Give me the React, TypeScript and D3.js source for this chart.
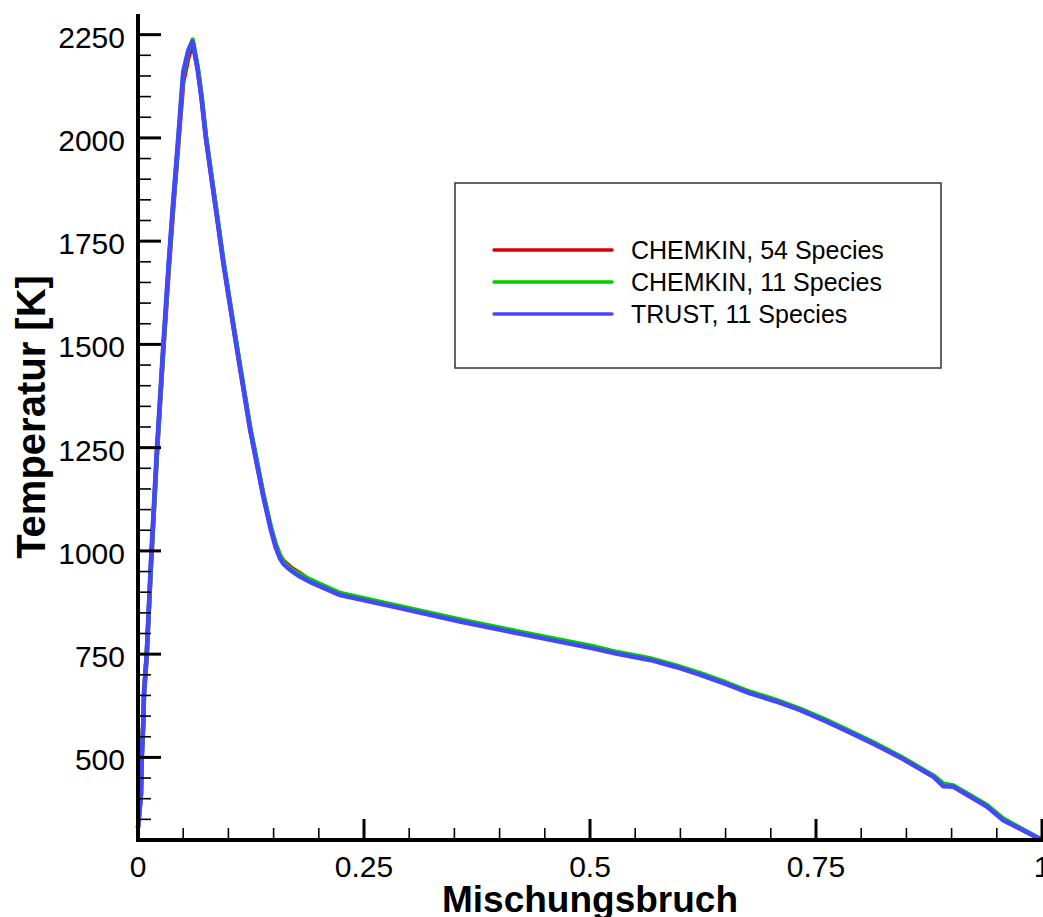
import React, { useEffect, useRef } from 'react';
import * as d3 from 'd3';

// Mischungsbruch (mixture fraction) grid
const mixture = [
  0, 0.0033, 0.0041, 0.0059, 0.0066, 0.0096, 0.0144, 0.021, 0.028, 0.034, 0.039,
  0.0446, 0.05, 0.0557, 0.0605, 0.066, 0.07, 0.075, 0.0815, 0.0888, 0.0944, 0.109,
  0.124, 0.1386, 0.147, 0.152, 0.157, 0.161, 0.165, 0.17, 0.179, 0.19, 0.2235, 0.282, 0.356, 0.43,
  0.503, 0.53, 0.566, 0.595, 0.622, 0.65, 0.677, 0.705, 0.732, 0.76, 0.788, 0.815, 0.843,
  0.88, 0.891, 0.902, 0.939, 0.957, 1.0,
];

// Temperatur [K] per series
const chemkin54 = [
  330, 410, 495, 585, 650, 745, 965, 1235, 1485, 1680, 1830,
  1985, 2135, 2195, 2230, 2168, 2104, 2004, 1902, 1789, 1700, 1498,
  1297, 1135, 1055, 1018, 988, 976, 968, 958, 946, 929, 896, 868, 832, 799,
  767, 753, 738, 721, 702, 680, 657, 638, 616, 590, 561, 533, 501,
  454, 433, 430, 383, 350, 300,
];
const chemkin11 = [
  330, 410, 495, 585, 650, 745, 970, 1240, 1490, 1690, 1840,
  1995, 2150, 2210, 2238, 2172, 2108, 2008, 1906, 1793, 1704, 1502,
  1301, 1139, 1058, 1018, 990, 974, 964, 955, 944, 931, 898, 870, 834, 801,
  769, 755, 740, 723, 704, 682, 659, 640, 618, 592, 563, 535, 503,
  456, 436, 432, 385, 352, 300,
];
const trust11 = [
  330, 414, 500, 590, 656, 750, 980, 1250, 1500, 1700, 1850,
  2003, 2160, 2213, 2233, 2165, 2100, 2000, 1898, 1785, 1696, 1494,
  1293, 1131, 1050, 1010, 982, 968, 960, 951, 938, 925, 893, 865, 829, 796,
  764, 751, 736, 719, 700, 678, 655, 636, 615, 588, 560, 531, 500,
  453, 430, 429, 381, 348, 300,
];

const seriesNames = ['CHEMKIN, 54 Species', 'CHEMKIN, 11 Species', 'TRUST, 11 Species'];
const seriesColors = ['#d80000', '#00cc00', '#4646ff'];

const xTickValues = [0, 0.25, 0.5, 0.75, 1];
const xTickLabels = ['0', '0.25', '0.5', '0.75', '1'];
const yTickValues = [500, 750, 1000, 1250, 1500, 1750, 2000, 2250];

export default function App() {
  const svgRef = useRef<SVGSVGElement>(null);

  useEffect(() => {
    if (!svgRef.current) return;

    const width = 1043;
    const height = 917;
    const font = '"Liberation Sans", Arial, Helvetica, sans-serif';

    d3.select(svgRef.current).selectAll('*').remove();

    const svg = d3.select(svgRef.current)
      .attr('width', width)
      .attr('height', height)
      .style('font-family', font);

    svg.append('rect').attr('width', width).attr('height', height).attr('fill', 'white');

    const x = d3.scaleLinear().domain([0, 1]).range([138, 1042]);
    const y = d3.scaleLinear().domain([300, 2300]).range([840, 14]);

    // curves: red under green under blue
    const all = [chemkin54, chemkin11, trust11];
    all.forEach((vals, k) => {
      const line = d3.line<number>()
        .x((_, i) => x(mixture[i]))
        .y(d => y(d));
      svg.append('path')
        .attr('d', line(vals))
        .attr('fill', 'none')
        .attr('stroke', seriesColors[k])
        .attr('stroke-width', 4.5)
        .attr('stroke-linejoin', 'round');
    });

    // minor ticks
    const xMinor = d3.range(1, 20).filter(i => i % 5 !== 0).map(i => i * 0.05);
    svg.selectAll('.xminor')
      .data(xMinor)
      .enter()
      .append('line')
      .attr('x1', d => x(d)).attr('x2', d => x(d))
      .attr('y1', 840).attr('y2', 828)
      .attr('stroke', 'black').attr('stroke-width', 1.6);

    const yMinor = d3.range(350, 2300, 50).filter(v => v % 250 !== 0);
    svg.selectAll('.yminor')
      .data(yMinor)
      .enter()
      .append('line')
      .attr('x1', 138).attr('x2', 151)
      .attr('y1', d => y(d)).attr('y2', d => y(d))
      .attr('stroke', 'black').attr('stroke-width', 1.6);

    // major ticks
    svg.selectAll('.xmajor')
      .data(xTickValues)
      .enter()
      .append('line')
      .attr('x1', d => x(d)).attr('x2', d => x(d))
      .attr('y1', 840).attr('y2', 819)
      .attr('stroke', 'black').attr('stroke-width', 3);

    svg.selectAll('.ymajor')
      .data(yTickValues)
      .enter()
      .append('line')
      .attr('x1', 138).attr('x2', 161)
      .attr('y1', d => y(d)).attr('y2', d => y(d))
      .attr('stroke', 'black').attr('stroke-width', 3);

    // axis lines
    svg.append('path')
      .attr('d', `M138,14V840H1043`)
      .attr('fill', 'none')
      .attr('stroke', 'black')
      .attr('stroke-width', 4);

    // tick labels
    svg.selectAll('.xlabel')
      .data(xTickValues)
      .enter()
      .append('text')
      .attr('x', d => x(d))
      .attr('y', 877)
      .attr('text-anchor', 'middle')
      .style('font-size', '30px')
      .text((_, i) => xTickLabels[i]);

    svg.selectAll('.ylabel')
      .data(yTickValues)
      .enter()
      .append('text')
      .attr('x', 125)
      .attr('y', d => y(d) + 13)
      .attr('text-anchor', 'end')
      .style('font-size', '30px')
      .text(d => String(d));

    // axis titles
    svg.append('text')
      .attr('x', x(0.5))
      .attr('y', 912)
      .attr('text-anchor', 'middle')
      .style('font-size', '37px')
      .style('font-weight', 'bold')
      .text('Mischungsbruch');

    svg.append('text')
      .attr('transform', `translate(45,417) rotate(-90)`)
      .attr('text-anchor', 'middle')
      .style('font-size', '40px')
      .style('font-weight', 'bold')
      .text('Temperatur [K]');

    // legend
    const legend = svg.append('g');
    legend.append('rect')
      .attr('x', 455).attr('y', 183)
      .attr('width', 486).attr('height', 185)
      .attr('fill', 'white')
      .attr('stroke', '#333')
      .attr('stroke-width', 1.5);

    seriesNames.forEach((name, k) => {
      const ly = 250 + k * 32;
      legend.append('line')
        .attr('x1', 494).attr('x2', 612)
        .attr('y1', ly).attr('y2', ly)
        .attr('stroke', seriesColors[k])
        .attr('stroke-width', 3.5)
        .attr('stroke-linecap', 'round');
      legend.append('text')
        .attr('x', 631)
        .attr('y', ly + 9)
        .style('font-size', '25px')
        .text(name);
    });
  }, []);

  return (
    <svg ref={svgRef} style={{ position: 'absolute', left: 0, top: 0, display: 'block' }}></svg>
  );
}
